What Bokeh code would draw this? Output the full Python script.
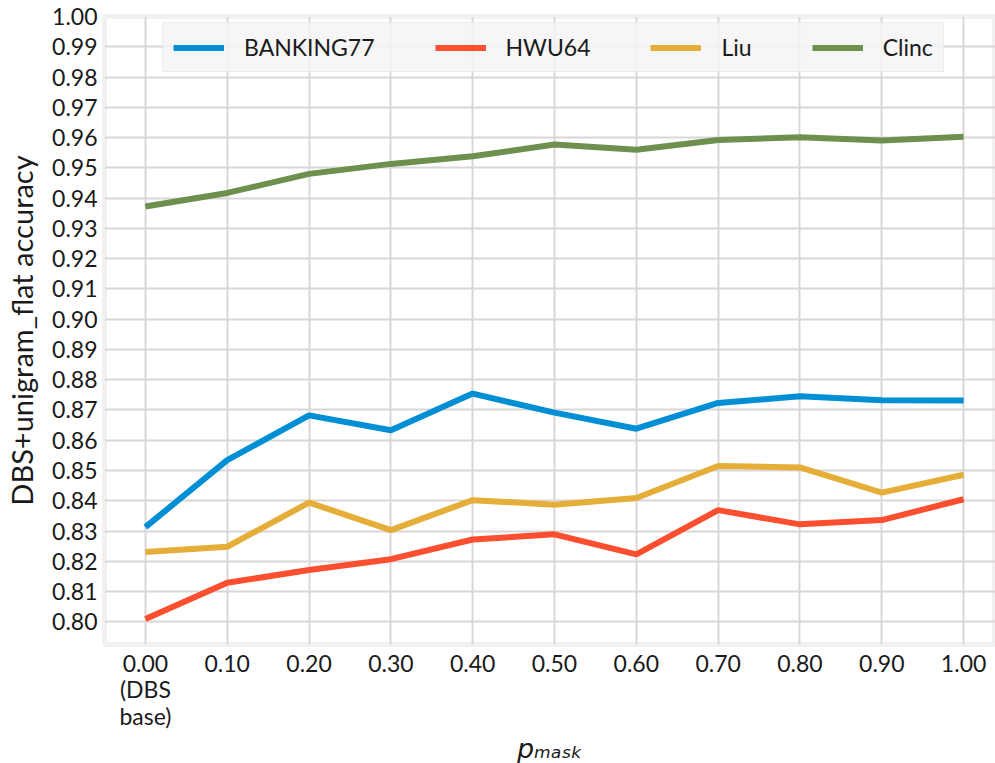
from bokeh.plotting import figure
from bokeh.models import FixedTicker, Legend, LegendItem, Range1d
from bokeh.embed import file_html
from bokeh.resources import INLINE

p_mask = [0.0, 0.1, 0.2, 0.3, 0.4, 0.5, 0.6, 0.7, 0.8, 0.9, 1.0]
x_tick_labels = ["0.00\n(DBS\nbase)", "0.10", "0.20", "0.30", "0.40", "0.50",
                 "0.60", "0.70", "0.80", "0.90", "1.00"]
y_ticks = [0.80, 0.81, 0.82, 0.83, 0.84, 0.85, 0.86, 0.87, 0.88, 0.89, 0.90,
           0.91, 0.92, 0.93, 0.94, 0.95, 0.96, 0.97, 0.98, 0.99, 1.00]

banking77 = [0.8313, 0.8534, 0.8682, 0.8633, 0.8754, 0.8691, 0.8638, 0.8723, 0.8745, 0.8732, 0.8731]
hwu64 = [0.8009, 0.8129, 0.8171, 0.8207, 0.8272, 0.8289, 0.8223, 0.8369, 0.8322, 0.8336, 0.8405]
liu = [0.8231, 0.8248, 0.8394, 0.8303, 0.8402, 0.8387, 0.8409, 0.8515, 0.8510, 0.8427, 0.8486]
clinc = [0.9372, 0.9417, 0.9480, 0.9513, 0.9538, 0.9577, 0.9560, 0.9592, 0.9601, 0.9590, 0.9603]

series_names = ["BANKING77", "HWU64", "Liu", "Clinc"]
series_values = [banking77, hwu64, liu, clinc]
colors = ["#008fd5", "#fc4f30", "#e5ae38", "#6d904f"]

FONT = "Lato"
TEXT_COLOR = "#1a1a1a"

p = figure(frame_width=891, frame_height=628,
           min_border_left=104, min_border_right=0, min_border_top=16, min_border_bottom=119,
           x_range=Range1d(-0.05, 1.039), y_range=Range1d(0.7925, 1.0),
           output_backend="svg", toolbar_location=None,
           background_fill_color="white", border_fill_color="white")

p.outline_line_color = "#f2f1f0"
p.outline_line_width = 5

p.xgrid.grid_line_color = "#dad6d6"
p.ygrid.grid_line_color = "#dad6d6"
p.xgrid.grid_line_width = 2
p.ygrid.grid_line_width = 2

p.xaxis.ticker = FixedTicker(ticks=p_mask)
p.xaxis.major_label_overrides = {v: s for v, s in zip(p_mask, x_tick_labels)}
p.yaxis.ticker = FixedTicker(ticks=y_ticks)
p.yaxis.major_label_overrides = {v: f"{v:.2f}" for v in y_ticks}

for ax in (p.xaxis[0], p.yaxis[0]):
    ax.axis_line_color = None
    ax.major_tick_line_color = None
    ax.minor_tick_line_color = None
    ax.major_tick_out = 0
    ax.major_tick_in = 0
    ax.major_label_text_font = FONT
    ax.major_label_text_font_size = "23px"
    ax.major_label_text_color = TEXT_COLOR

p.xaxis.major_label_standoff = 4
p.xaxis.major_label_text_line_height = 0.96
p.yaxis.major_label_standoff = 7

p.yaxis.axis_label = "DBS+unigram_flat accuracy"
p.yaxis.axis_label_text_font = FONT
p.yaxis.axis_label_text_font_style = "normal"
p.yaxis.axis_label_text_font_size = "29px"
p.yaxis.axis_label_text_color = TEXT_COLOR
p.yaxis.axis_label_standoff = 10

p.xaxis.axis_label = "p\u2098\u2090\u209b\u2096"
p.xaxis.axis_label_text_font = "DejaVu Sans"
p.xaxis.axis_label_text_font_style = "italic"
p.xaxis.axis_label_text_font_size = "27px"
p.xaxis.axis_label_text_color = TEXT_COLOR
p.xaxis.axis_label_standoff = 0

renderers = []
for name, vals, c in zip(series_names, series_values, colors):
    r = p.line(p_mask, vals, line_color=c, line_width=6)
    renderers.append((name, r))

legend = Legend(items=[LegendItem(label=n, renderers=[r]) for n, r in renderers],
                orientation="horizontal", location=(58, 572),
                label_text_font=FONT, label_text_font_size="23px",
                label_text_color=TEXT_COLOR,
                glyph_width=51, glyph_height=23, label_height=23,
                label_standoff=20, spacing=60, padding=10, margin=0,
                background_fill_color="#f5f5f5", background_fill_alpha=0.85,
                border_line_color="#e0e0e0", border_line_width=1)
p.add_layout(legend)

open("out.html", "w").write(file_html(p, INLINE))
